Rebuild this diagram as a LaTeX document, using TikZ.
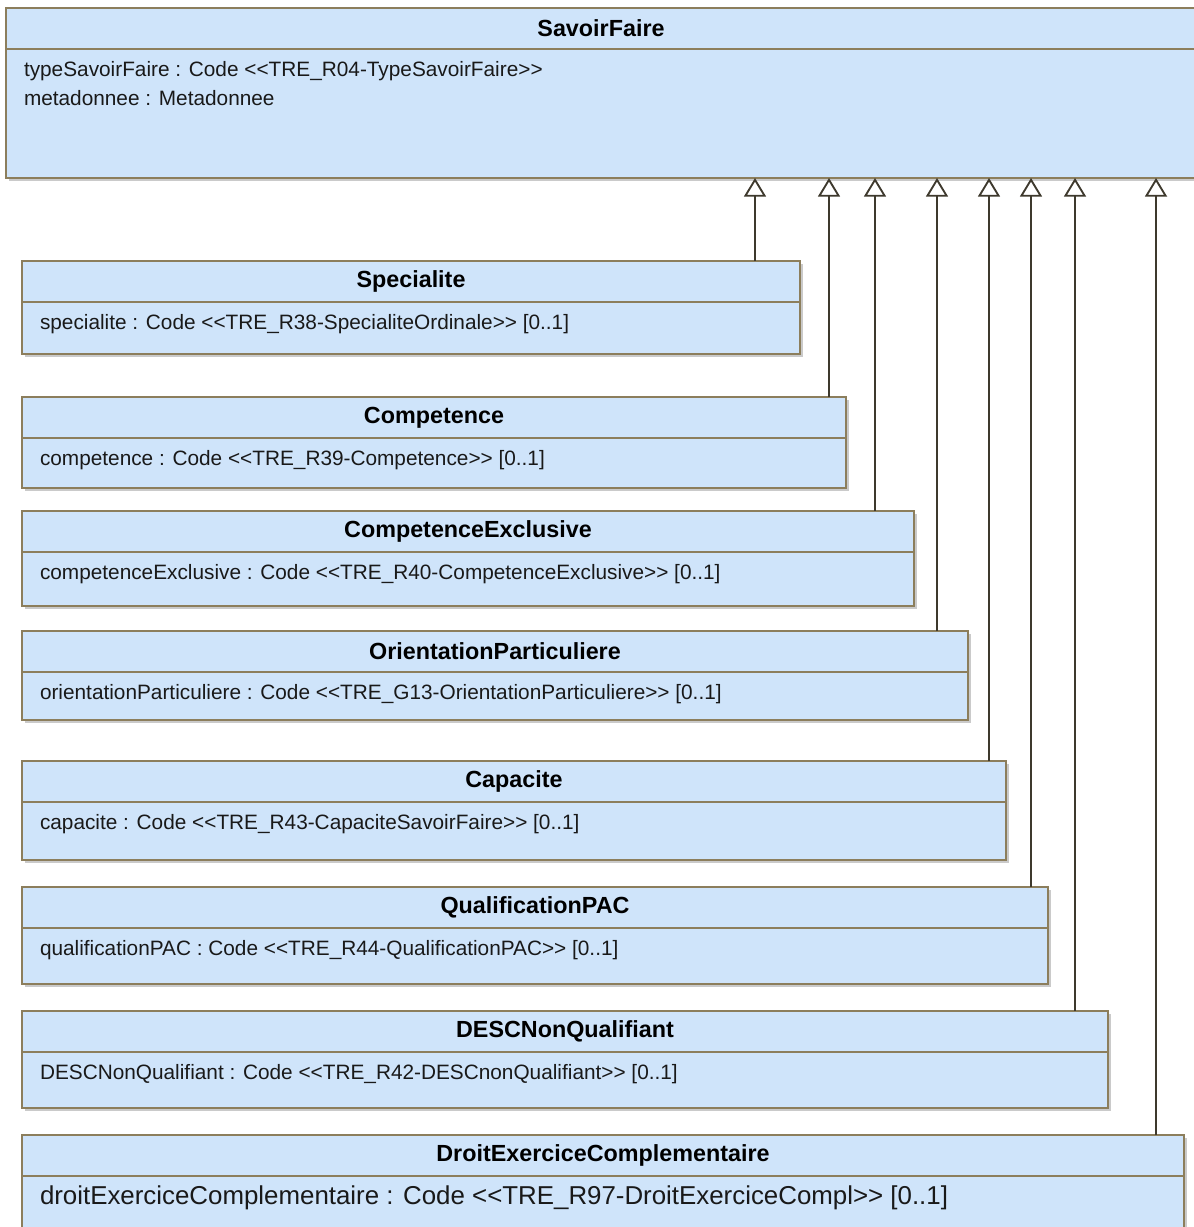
\documentclass[tikz,border=0pt]{standalone}
\usepackage{fontspec}
\setmainfont{Liberation Sans}
\usepackage{xcolor}
\definecolor{classfillUML}{RGB}{207,228,250}
\definecolor{classlineUML}{RGB}{140,126,92}
\definecolor{linklineUML}{RGB}{62,57,45}
\usepackage{tikz}
\usetikzlibrary{arrows.meta, positioning, shadows, calc}
\tikzset{classbox/.style={draw=classlineUML, fill=classfillUML, line width=1.1pt, rectangle,
  drop shadow={shadow xshift=2pt, shadow yshift=-2pt, fill=black!35, opacity=0.6}},
sepline/.style={draw=classlineUML, line width=1.1pt},
titletext/.style={font=\fontsize{17.5}{21}\selectfont\bfseries, text=black},
attrtext/.style={font=\fontsize{15.6}{19}\selectfont, text=black!90},
inherit/.style={draw=linklineUML, line width=1.4pt, -{Triangle[open, length=14pt, width=16.5pt]}}
}
\newcommand{\bigattr}{\fontsize{19.4}{23}\selectfont}
\newcommand{\stl}{<{}<}
\newcommand{\str}{>{}>}

\begin{document}
\begin{tikzpicture}[x=0.75pt, y=-0.75pt, every node/.style={inner sep=0pt, outer sep=0pt}]
        \useasboundingbox (0,0) rectangle (1194,1227);
        % Class box: name, left, top, right, bottom, title, attribute
        \newcommand{\umlclass}[7]{
            \node[classbox, anchor=north west, minimum width={(#4-#2)*0.75pt}, minimum height={(#5-#3)*0.75pt}] (#1) at (#2,#3) {};
            \draw[sepline] ($(#1.north west)+(0,41)$) -- ($(#1.north east)+(0,41)$);
            \node[titletext] (#1-title) at ($(#1.north)+(0,20.5)$) {#6};
            \node[attrtext, anchor=west] (#1-attr) at ($(#1.north west)+(18,63)$) {#7};
            }

        % === Superclass ===
        \umlclass{sf}{6}{8}{1196}{178}{SavoirFaire}{typeSavoirFaire : Code \stl TRE\_R04-TypeSavoirFaire\str}
        \node[attrtext, anchor=west] (sf-attr2) at ($(sf-attr.west)+(0,27)$) {metadonnee : Metadonnee};

        % === Subclasses ===
        \umlclass{spec}{22}{261}{800}{354}{Specialite}{specialite : Code \stl TRE\_R38-SpecialiteOrdinale\str\ [0..1]}
        \umlclass{comp}{22}{397}{846}{488}{Competence}{competence : Code \stl TRE\_R39-Competence\str\ [0..1]}
        \umlclass{compex}{22}{511}{914}{606}{CompetenceExclusive}{competenceExclusive : Code \stl TRE\_R40-CompetenceExclusive\str\ [0..1]}
        \umlclass{orient}{22}{631}{968}{720}{OrientationParticuliere}{orientationParticuliere : Code \stl TRE\_G13-OrientationParticuliere\str\ [0..1]}
        \umlclass{capa}{22}{761}{1006}{860}{Capacite}{capacite : Code \stl TRE\_R43-CapaciteSavoirFaire\str\ [0..1]}
        \umlclass{qualif}{22}{887}{1048}{984}{QualificationPAC}{qualificationPAC : Code \stl TRE\_R44-QualificationPAC\str\ [0..1]}
        \umlclass{desc}{22}{1011}{1108}{1108}{DESCNonQualifiant}{DESCNonQualifiant : Code \stl TRE\_R42-DESCnonQualifiant\str\ [0..1]}
        \umlclass{droit}{22}{1135}{1184}{1250}{DroitExerciceComplementaire}{\bigattr\raisebox{-3pt}{droitExerciceComplementaire : Code \stl TRE\_R97-DroitExerciceCompl\str\ [0..1]}}

        % === Generalisation arrows ===
        \foreach \cls/\xpos in {spec/755, comp/829, compex/875, orient/937, capa/989, qualif/1031, desc/1075, droit/1156} {\draw[inherit] (\cls.north -| \xpos,0) -- (sf.south -| \xpos,0);}

        \end{tikzpicture}
\end{document}
